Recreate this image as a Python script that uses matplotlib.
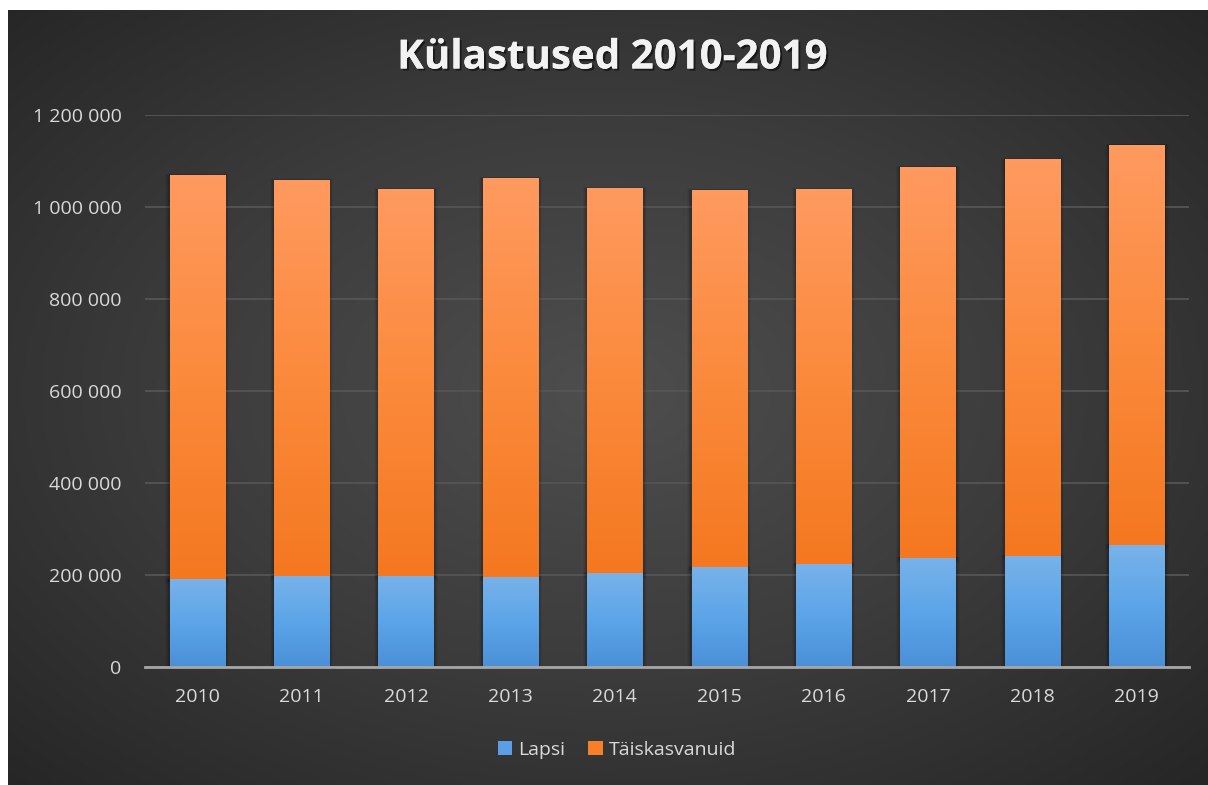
import matplotlib
matplotlib.use("Agg")
import matplotlib.pyplot as plt
import numpy as np
from matplotlib.ticker import FuncFormatter, MultipleLocator
from matplotlib.patches import Rectangle
from matplotlib.colors import LinearSegmentedColormap
import matplotlib.patheffects as pe

years = ["2010", "2011", "2012", "2013", "2014", "2015", "2016", "2017", "2018", "2019"]
lapsi = [191000, 198000, 198000, 196000, 204000, 217000, 224000, 237000, 242000, 265000]
totals = [1070000, 1059000, 1039000, 1063000, 1041000, 1037000, 1039000, 1087000, 1104000, 1135000]
taiskasvanuid = [t - l for t, l in zip(totals, lapsi)]
series_names = ["Lapsi", "Täiskasvanuid"]
title = "Külastused 2010-2019"

plt.rcParams['font.family'] = ['Open Sans', 'DejaVu Sans']

W, H = 1208, 785
fig = plt.figure(figsize=(W / 100, H / 100), dpi=100, facecolor="#2a2a2a")

# background with radial gradient (covers whole figure; white strips drawn on top-left)
bg = fig.add_axes([0, 0, 1, 1])
bg.set_axis_off()
yy, xx = np.mgrid[-1:1:300j, -1:1:400j]
r = np.sqrt(xx ** 2 + yy ** 2) / np.sqrt(2)
bgcmap = LinearSegmentedColormap.from_list("bg", ["#4e4e4e", "#3c3c3c", "#262626"])
bg.imshow(r, cmap=bgcmap, aspect="auto", extent=[0, 1, 0, 1], vmin=0, vmax=1)
bg.set_xlim(0, 1)
bg.set_ylim(0, 1)
bg.add_patch(Rectangle((0, 0), 8 / W, 1, facecolor="white", lw=0, transform=bg.transAxes, zorder=5))
bg.add_patch(Rectangle((0, 1 - 10 / H), 1, 10 / H, facecolor="white", lw=0, transform=bg.transAxes, zorder=5))

# main axes: x 145..1189, y 115..667 (for 0..1.2M)
ax = fig.add_axes([145 / W, (H - 667) / H, (1189 - 145) / W, (667 - 115) / H])
ax.patch.set_alpha(0)
x = np.arange(len(years))
bw = 0.53

b1 = ax.bar(x, lapsi, bw, color="#5b9ee6", label=series_names[0], zorder=3)
b2 = ax.bar(x, taiskasvanuid, bw, bottom=lapsi, color="#f77f2a", label=series_names[1], zorder=3)

blue_cmap = LinearSegmentedColormap.from_list("b", ["#4a90d8", "#5ca5e8", "#78b2ea"])
orange_cmap = LinearSegmentedColormap.from_list("o", ["#f57820", "#fb8a3c", "#ff9a60"])
grad = np.linspace(0, 1, 256).reshape(-1, 1)
for bars, cm in ((b1, blue_cmap), (b2, orange_cmap)):
    for p in bars:
        x0, y0 = p.get_x(), p.get_y()
        w, h = p.get_width(), p.get_height()
        for k, a in enumerate([0.10, 0.08, 0.06, 0.04]):
            sh = Rectangle((x0 - 0.01 * (k + 1), y0 - 3000 * (k + 1)), w + 0.02 * (k + 1), h + 3000 * (k + 1) * 1.2,
                           facecolor="black", alpha=a, lw=0, zorder=2)
            ax.add_patch(sh)
        im = ax.imshow(grad, cmap=cm, origin="lower", aspect="auto",
                       extent=[x0, x0 + w, y0, y0 + h], zorder=3.5)
        im.set_clip_path(p)

ax.set_xlim(-0.5, len(years) - 0.5)
ax.set_ylim(0, 1200000)

ax.yaxis.set_major_locator(MultipleLocator(200000))
ax.yaxis.set_major_formatter(FuncFormatter(lambda v, p: f"{int(v):,}".replace(",", " ")))
ax.grid(axis="y", color="#555555", lw=1.3, zorder=0)
ax.set_axisbelow(True)
for s in ["top", "right", "left"]:
    ax.spines[s].set_visible(False)
ax.spines["bottom"].set_color("#a6a6a6")
ax.spines["bottom"].set_linewidth(2)
ax.spines["bottom"].set_zorder(5)
ax.set_xticks(x)
ax.set_xticklabels(years)
ax.tick_params(axis="both", length=0, colors="#d9d9d9", labelsize=14)
ax.tick_params(axis="x", pad=15)
ax.tick_params(axis="y", pad=17)

fig.text(612 / W, 1 - 58 / H, title, ha="center", va="center", fontsize=29, fontweight="bold",
         color="#f2f2f2",
         path_effects=[pe.withSimplePatchShadow(offset=(1.5, -1.5), shadow_rgbFace="black", alpha=0.5), pe.Normal()])

leg = fig.legend(handles=[b1, b2], labels=series_names, loc="center", bbox_to_anchor=(617 / W, 1 - 750 / H),
                 ncol=2, frameon=False, fontsize=14, handlelength=0.75, handleheight=0.75,
                 handletextpad=0.3, columnspacing=1.2)
for t in leg.get_texts():
    t.set_color("#d9d9d9")

fig.savefig("out.png", dpi=100, facecolor=fig.get_facecolor())
